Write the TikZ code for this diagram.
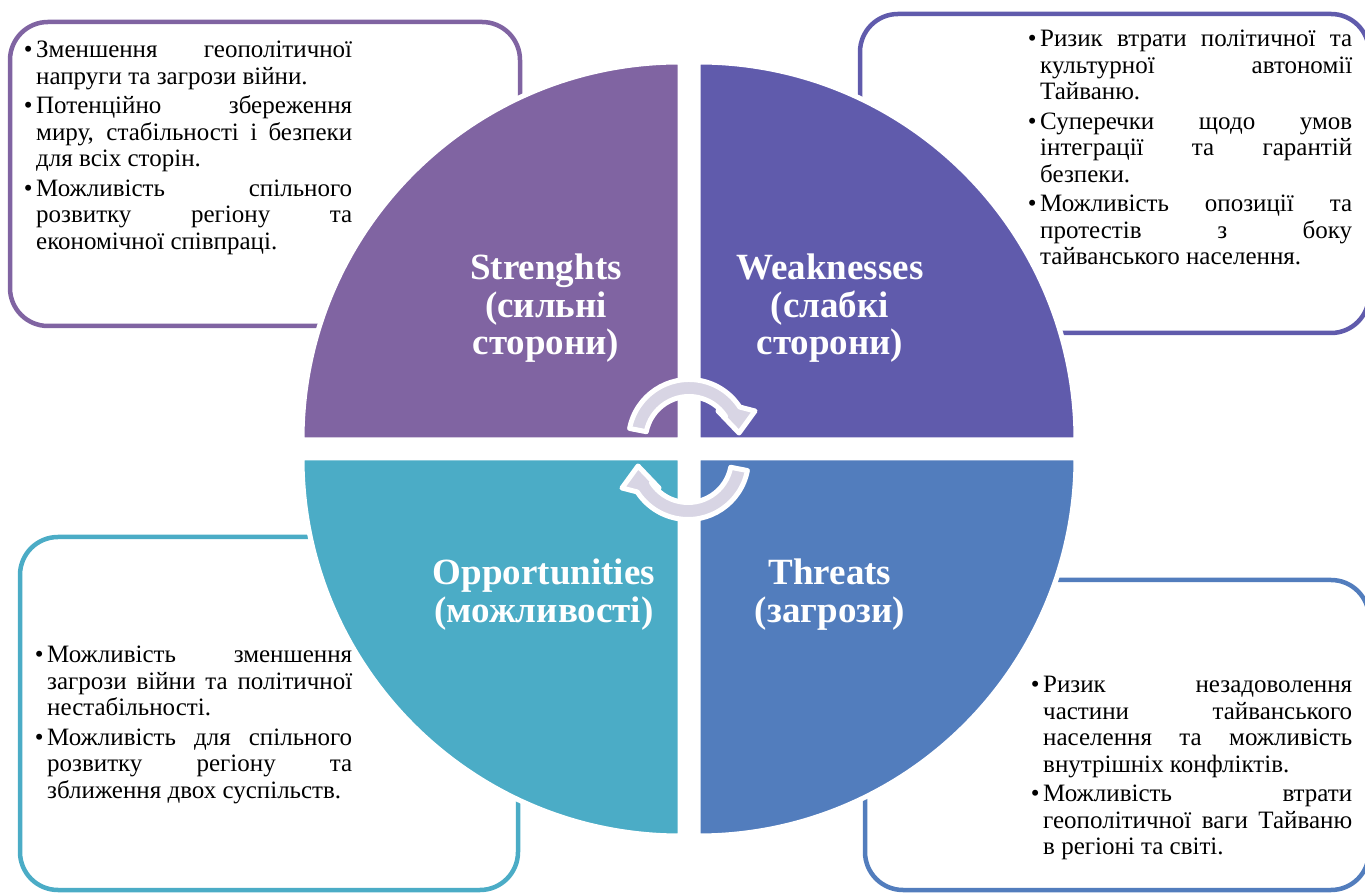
\documentclass[tikz,border=0pt]{standalone}
\usepackage{fontspec}
\setmainfont{Liberation Serif}
\definecolor{swotS}{RGB}{128,100,162}
\definecolor{swotW}{RGB}{96,91,172}
\definecolor{swotO}{RGB}{75,172,198}
\definecolor{swotT}{RGB}{82,125,189}
\definecolor{arrowFill}{RGB}{216,213,228}
\newcommand{\swotItem}{\leavevmode\llap{\textbullet\hspace{3.5pt}}}
\newcommand{\swotNext}{\par\vspace{3pt}\swotItem}

\begin{document}
\begin{tikzpicture}[x=1pt, y=1pt,
BoxFrame/.style={draw=#1, fill=white, line width=4.5pt, rounded corners=38pt, anchor=north west, inner sep=0pt, outer sep=0pt},
QuadLabel/.style={text=white, font=\fontsize{37}{37.5}\selectfont\bfseries, text width=260pt, align=center, anchor=base, inner sep=0pt},
ItemText/.style={font=\fontsize{25}{26.5}\selectfont, text width=#1, align=justify, anchor=base west, inner sep=0pt, execute at begin node={\tolerance=10000\relax}},
CycleArrow/.style={fill=arrowFill, draw=white, line width=5pt, line join=round}]
\useasboundingbox (0,0) rectangle (1365,894);
% frames behind the circle
\node [BoxFrame=swotS, minimum width=510pt, minimum height=304pt] (boxS) at (10,872) {};
\node [BoxFrame=swotW, minimum width=509pt, minimum height=319pt] (boxW) at (860,880) {};
\node [BoxFrame=swotO, minimum width=498pt, minimum height=353pt] (boxO) at (20,357) {};
\node [BoxFrame=swotT, minimum width=504pt, minimum height=310pt] (boxT) at (865,314) {};
% the four quarters
\foreach \cx/\cy/\a/\col in {680/454/90/swotS, 698/454/0/swotW, 680/436/180/swotO, 698/436/270/swotT} {
  \filldraw [fill=\col, draw=white, line width=5pt] (\cx,\cy) -- ++(\a:378) arc [start angle=\a, delta angle=90, radius=378pt] -- cycle;
}
\node [QuadLabel] (labS) at (546,614) {Strenghts\\(сильні\\сторони)};
\node [QuadLabel] (labW) at (830,614) {Weaknesses\\(слабкі\\сторони)};
\node [QuadLabel] (labO) at (544,309) {Opportunities\\(можливості)};
\node [QuadLabel] (labT) at (830,309) {Threats\\(загрози)};
% circular arrows in the middle
\foreach \cx/\cy/\rot in {689/454/0, 688/435/180} {
  \begin{scope}[shift={(\cx,\cy)}, rotate=\rot]
    \filldraw [CycleArrow] (169:60.5) arc [start angle=169, end angle=33, radius=60.5pt] -- (66,29) -- (50,7) -- (29,29) -- (33:43.5) arc [start angle=33, end angle=169, radius=43.5pt] -- cycle;
  \end{scope}
}
% texts in the frames
\node [ItemText=316pt] (txtS) at (36,836) {\swotItem Зменшення геополітичної\linebreak напруги та загрози війни.\swotNext Потенційно збереження\linebreak миру, стабільності і безпеки\linebreak для всіх сторін.\swotNext Можливість спільного\linebreak розвитку регіону та\linebreak економічної співпраці.};
\node [ItemText=312pt] (txtW) at (1040,847) {\swotItem Ризик втрати політичної та\linebreak культурної автономії\linebreak Тайваню.\swotNext Суперечки щодо умов\linebreak інтеграції та гарантій\linebreak безпеки.\swotNext Можливість опозиції та\linebreak протестів з боку\linebreak тайванського населення.};
\node [ItemText=305pt] (txtO) at (47,231) {\swotItem Можливість зменшення\linebreak загрози війни та політичної\linebreak нестабільності.\swotNext Можливість для спільного\linebreak розвитку регіону та\linebreak зближення двох суспільств.};
\node [ItemText=309pt] (txtT) at (1043,201) {\swotItem Ризик незадоволення\linebreak частини тайванського\linebreak населення та можливість\linebreak внутрішніх конфліктів.\swotNext Можливість втрати\linebreak геополітичної ваги Тайваню\linebreak в регіоні та світі.};
\end{tikzpicture}
\end{document}
